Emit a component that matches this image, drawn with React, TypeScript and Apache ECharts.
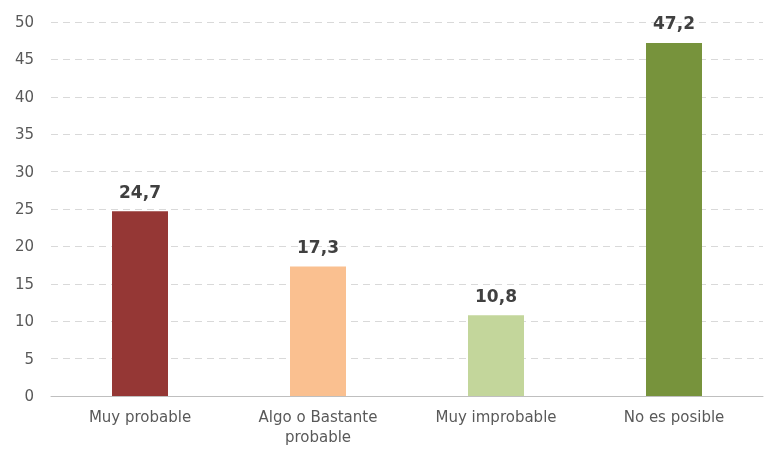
import React, { useEffect, useRef } from "react";
import * as echarts from "echarts";

const categories = ["Muy probable", "Algo o Bastante\nprobable", "Muy improbable", "No es posible"];
const values = [24.7, 17.3, 10.8, 47.2];
const colors = ["#953735", "#FAC090", "#C3D69B", "#77933C"];

const FONT = "DejaVu Sans, Verdana, sans-serif";

export default function App() {
  const ref = useRef<HTMLDivElement>(null);
  useEffect(() => {
    if (!ref.current) return;
    const chart = echarts.init(ref.current, null, { renderer: "svg" });
    chart.setOption({
      animation: false,
      grid: { left: 51, right: 1, top: 22, bottom: 54, containLabel: false },
      xAxis: {
        type: "category",
        data: categories,
        axisLine: { lineStyle: { color: "#BFBFBF", width: 1 } },
        axisTick: { show: false },
        axisLabel: {
          color: "#595959",
          fontSize: 15,
          fontFamily: FONT,
          margin: 11,
          lineHeight: 20,
          interval: 0,
        },
      },
      yAxis: {
        type: "value",
        min: 0,
        max: 50,
        interval: 5,
        axisLine: { show: false },
        axisTick: { show: false },
        axisLabel: {
          color: "#595959",
          fontSize: 15,
          fontFamily: FONT,
          margin: 17,
        },
        splitLine: { lineStyle: { color: "#D9D9D9", type: [7, 5], width: 1 } },
      },
      series: [
        {
          type: "bar",
          barWidth: 56,
          data: values.map((v, i) => ({ value: v, itemStyle: { color: colors[i] } })),
          label: {
            show: true,
            position: "top",
            distance: 11,
            color: "#404040",
            fontSize: 17,
            fontWeight: "bold",
            fontFamily: FONT,
            formatter: (p: any) => String(p.value).replace(".", ","),
          },
        },
      ],
    });
    return () => chart.dispose();
  }, []);
  return <div ref={ref} style={{ position: "fixed", left: 0, top: 0, width: 764, height: 450 }} />;
}
